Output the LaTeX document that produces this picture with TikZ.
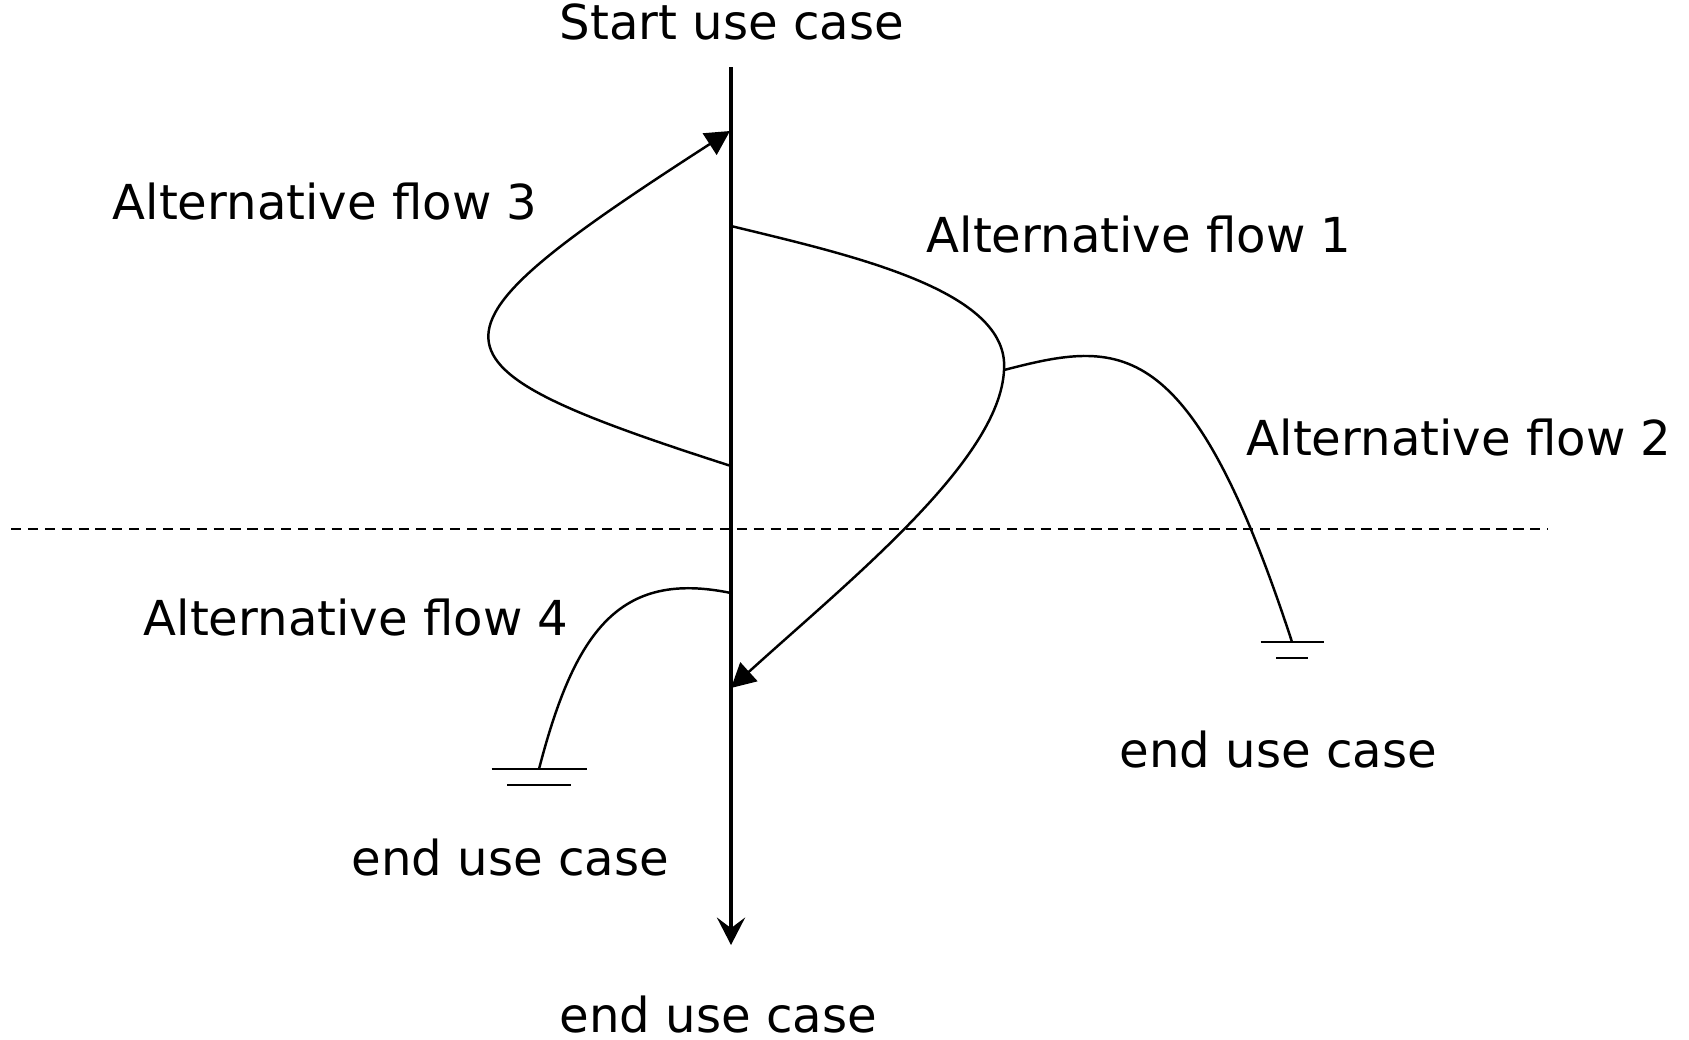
\documentclass[tikz,border=0pt]{standalone}
\usepackage{fontspec}
\setmainfont{DejaVu Sans}
\usepackage{tikz}
\usetikzlibrary{arrows.meta,positioning,calc}

\tikzset{
    txt/.style={anchor=base west, inner sep=0pt, font=\fontsize{13.7}{16}\selectfont},
    flow/.style={line width=0.7pt},
    flowarrow/.style={flow, -{Triangle[length=6.9pt, width=7.2pt]}},
    mainline/.style={line width=1pt, -{Stealth[length=7.8pt, width=8pt, inset=3pt]}},
    divider/.style={line width=0.55pt, dash pattern=on 2.9pt off 1.9pt},
    gnd/.style={line width=0.7pt}
}

\begin{document}
\begin{tikzpicture}[x=0.01cm, y=-0.01cm]
    \useasboundingbox (0,0) rectangle (1689,1039);

    % Points on the basic flow
    \coordinate (top) at (731,67);
    \coordinate (bot) at (731,945);
    \coordinate (a1s) at (731,226);
    \coordinate (a1m) at (1004,370);
    \coordinate (a1e) at (731,688);
    \coordinate (a3s) at (731,466);
    \coordinate (a3e) at (730,131);
    \coordinate (a4s) at (731,593);
    \coordinate (gndL) at (539,769);
    \coordinate (gndR) at (1292,642);
    \coordinate (dl) at (11,529);
    \coordinate (dr) at (1548,529);

    % Labels
    \node[txt] (start) at (559,39) {Start use case};
    \node[txt] (alt3) at (112,219) {Alternative flow 3};
    \node[txt] (alt1) at (926,252) {Alternative flow 1};
    \node[txt] (alt2) at (1246,455) {Alternative flow 2};
    \node[txt] (alt4) at (143,635) {Alternative flow 4};
    \node[txt] (endR) at (1119,767) {end use case};
    \node[txt] (endL) at (351,875) {end use case};
    \node[txt, text depth=0pt] (endB) at (559,1032) {end use case};

    % Basic flow
    \draw[mainline] (top) -- (bot);

    % Dashed divider
    \draw[divider] (dl) -- (dr);

    % Alternative flow 3 (loops back up)
    \draw[flowarrow] (a3s) .. controls (411,363) and (411,337) .. (a3e);

    % Alternative flow 1 (rejoins lower down)
    \draw[flow] (a1s) .. controls (850,255) and (1010,290) .. (a1m);
    \draw[flowarrow] (a1m) .. controls (1000,460) and (850,580) .. (a1e);

    % Alternative flow 2 (branches off flow 1)
    \draw[flow] (a1m) .. controls (1120,340) and (1190,330) .. (gndR);

    % Alternative flow 4
    \draw[flow] (a4s) .. controls (620,570) and (575,630) .. (gndL);

    % Ground symbols
    \foreach \g/\wa/\wb in {gndL/95/64, gndR/63/32} {
        \draw[gnd] ($(\g)+(-\wa/2,0)$) -- ($(\g)+(\wa/2,0)$);
        \draw[gnd] ($(\g)+(-\wb/2,16)$) -- ($(\g)+(\wb/2,16)$);
    }
\end{tikzpicture}
\end{document}
